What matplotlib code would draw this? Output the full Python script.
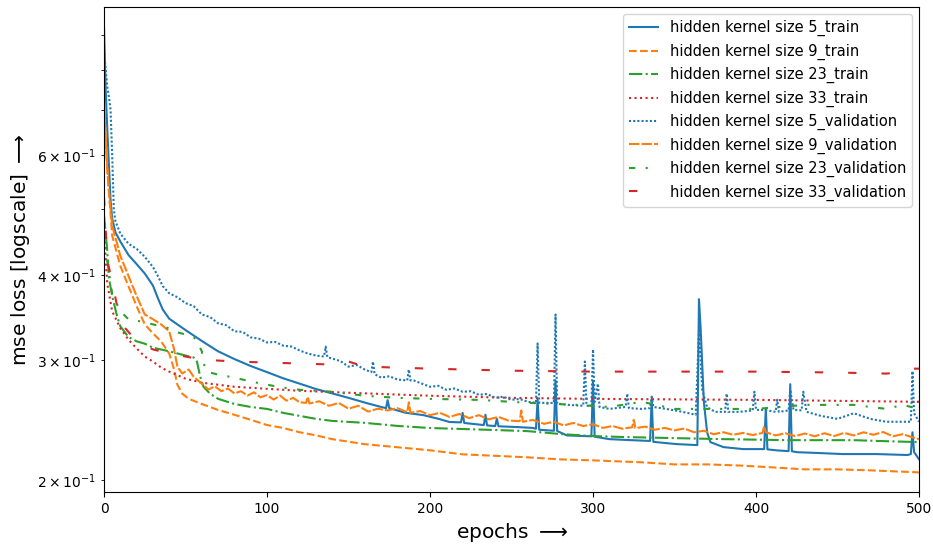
import matplotlib
matplotlib.use("Agg")
import matplotlib.pyplot as plt

# (epoch, mse loss) pairs for each run
k5_train = [(0, 0.925), (1, 0.749), (2, 0.654), (3, 0.580), (4, 0.515), (5, 0.484), (7, 0.462),
            (10, 0.448), (15, 0.428), (20, 0.415), (25, 0.402), (30, 0.386), (33, 0.370), (36, 0.356),
            (40, 0.345), (50, 0.332), (60, 0.320), (70, 0.309), (80, 0.301), (90, 0.294), (100, 0.288),
            (110, 0.282), (120, 0.277), (130, 0.272), (140, 0.268), (150, 0.264), (161, 0.2594),
            (170, 0.256), (173, 0.255), (174, 0.262), (175, 0.255), (185, 0.251), (196, 0.249),
            (205, 0.246), (212, 0.2433), (219, 0.243), (220, 0.2509), (221, 0.2425), (233, 0.2408),
            (234, 0.2493), (235, 0.2405), (240, 0.240), (241, 0.246), (242, 0.2398), (253, 0.2392),
            (263, 0.2385), (265, 0.2378), (266, 0.2622), (267, 0.2370), (276, 0.2362), (277, 0.2801),
            (278, 0.2360), (284, 0.2325), (299, 0.2318), (300, 0.279), (301, 0.2315), (310, 0.2296),
            (320, 0.2290), (335, 0.2282), (336, 0.263), (337, 0.2275), (351, 0.2258), (364, 0.2250),
            (365, 0.3686), (366, 0.335), (368, 0.2605), (370, 0.235), (372, 0.2273), (380, 0.2235),
            (392, 0.222), (405, 0.222), (406, 0.2545), (407, 0.2218), (413, 0.221), (420, 0.2205),
            (421, 0.2765), (422, 0.2204), (425, 0.2197), (440, 0.219), (453, 0.2183), (474, 0.2183),
            (493, 0.2176), (495, 0.2183), (496, 0.235), (497, 0.2197), (500, 0.2145)]

k9_train = [(0, 0.72), (1, 0.64), (2, 0.58), (3, 0.53), (5, 0.457), (10, 0.4125), (15, 0.385),
            (20, 0.360), (25, 0.3385), (30, 0.3283), (35, 0.3196), (40, 0.3067), (43, 0.2905),
            (45, 0.276), (48, 0.2678), (52, 0.2631), (60, 0.2586), (70, 0.2534), (80, 0.2493),
            (90, 0.2451), (100, 0.2408), (110, 0.2384), (120, 0.235), (130, 0.2326), (140, 0.2296),
            (160, 0.2257), (180, 0.2234), (200, 0.2211), (220, 0.2181), (240, 0.2170), (260, 0.2159),
            (280, 0.2144), (300, 0.2137), (330, 0.2123), (350, 0.2108), (370, 0.2108), (390, 0.2100),
            (410, 0.2087), (430, 0.2073), (450, 0.2073), (470, 0.2066), (500, 0.2052)]

k23_train = [(0, 0.489), (2, 0.434), (3, 0.396), (5, 0.3725), (8, 0.348), (10, 0.3363), (15, 0.3243),
             (20, 0.3196), (25, 0.3171), (30, 0.3128), (40, 0.309), (50, 0.3046), (55, 0.3026),
             (57, 0.2985), (59, 0.2836), (61, 0.2741), (65, 0.2678), (70, 0.2631), (80, 0.2586),
             (90, 0.256), (100, 0.2543), (110, 0.2509), (120, 0.2484), (130, 0.2459), (140, 0.2442),
             (160, 0.2426), (180, 0.2401), (200, 0.2384), (220, 0.2376), (240, 0.2368), (260, 0.2359),
             (280, 0.2336), (300, 0.232), (320, 0.2312), (350, 0.2304), (380, 0.2296), (420, 0.2288),
             (460, 0.2288), (480, 0.228), (500, 0.2273)]

k33_train = [(0, 0.4648), (2, 0.388), (5, 0.3539), (10, 0.334), (15, 0.3214), (20, 0.312), (25, 0.3036),
             (30, 0.2985), (35, 0.2925), (40, 0.2885), (50, 0.2817), (60, 0.2779), (70, 0.276),
             (80, 0.2741), (100, 0.2722), (120, 0.2704), (150, 0.2686), (200, 0.2659), (250, 0.264),
             (300, 0.2631), (400, 0.2622), (500, 0.2605)]

k5_val = [(0, 0.858), (1, 0.801), (2, 0.756), (3, 0.73), (4, 0.70), (5, 0.60), (6, 0.50), (7, 0.48),
          (10, 0.460), (15, 0.4446), (20, 0.437), (25, 0.4253), (30, 0.411), (33, 0.3987), (36, 0.3853),
          (40, 0.376), (45, 0.3710), (50, 0.3637), (55, 0.3600), (60, 0.350), (65, 0.3470), (70, 0.3397),
          (75, 0.3375), (80, 0.3306), (85, 0.3300), (90, 0.3239), (95, 0.3225), (100, 0.3184),
          (105, 0.3190), (110, 0.3149), (115, 0.3140), (120, 0.3099), (125, 0.3067), (130, 0.3046),
          (135, 0.3036), (136, 0.3140), (137, 0.3030), (140, 0.3015), (145, 0.2990), (150, 0.2934),
          (155, 0.2950), (160, 0.2905), (164, 0.2880), (165, 0.2985), (166, 0.2860), (170, 0.2827),
          (175, 0.2840), (180, 0.2809), (186, 0.2800), (187, 0.2905), (188, 0.2800), (190, 0.2800),
          (195, 0.2770), (200, 0.2741), (205, 0.2750), (210, 0.2713), (215, 0.2725), (220, 0.2695),
          (225, 0.2700), (230, 0.2667), (235, 0.2675), (240, 0.2640), (245, 0.2650), (250, 0.2622),
          (255, 0.2630), (260, 0.2605), (265, 0.2596), (266, 0.3173), (267, 0.2596),
          (276, 0.2595), (277, 0.350), (278, 0.2590), (285, 0.2578), (294, 0.2570), (295, 0.2985),
          (296, 0.2570), (299, 0.2570), (300, 0.311), (301, 0.2605), (303, 0.277), (304, 0.2560),
          (310, 0.2543), (320, 0.2560), (321, 0.2678), (322, 0.2550), (330, 0.2543), (335, 0.2550),
          (336, 0.265), (337, 0.2560), (345, 0.2543), (355, 0.2518), (363, 0.2493), (365, 0.331),
          (367, 0.2713), (370, 0.2557), (375, 0.2518), (381, 0.2518), (382, 0.2678), (383, 0.2518),
          (390, 0.2518), (398, 0.2530), (399, 0.2695), (400, 0.2535), (405, 0.2535), (412, 0.2518),
          (413, 0.2623), (414, 0.2518), (420, 0.2530), (421, 0.2713), (423, 0.2535), (428, 0.2530),
          (429, 0.2695), (431, 0.2518), (440, 0.2483), (450, 0.2459), (460, 0.2506), (470, 0.2459),
          (480, 0.2435), (490, 0.2435), (495, 0.2435), (496, 0.289), (497, 0.2506), (500, 0.2435)]

k9_val = [(0, 0.72), (1, 0.63), (2, 0.57), (3, 0.53), (5, 0.4727), (10, 0.4268), (15, 0.3987),
          (20, 0.3725), (25, 0.350), (30, 0.3444), (35, 0.3385), (40, 0.3306), (43, 0.311),
          (45, 0.2934), (48, 0.2867), (52, 0.2905), (55, 0.2835), (60, 0.277), (64, 0.2715),
          (68, 0.2745), (72, 0.2700), (76, 0.2725), (80, 0.2680), (84, 0.2700), (88, 0.2660),
          (92, 0.2690), (96, 0.2645), (100, 0.2665), (104, 0.2625), (108, 0.2660), (112, 0.2615),
          (116, 0.2640), (120, 0.2600), (124, 0.2596), (125, 0.2650), (126, 0.2590), (132, 0.2610),
          (138, 0.2570), (144, 0.2595), (150, 0.2545), (156, 0.2570), (162, 0.2520), (168, 0.2545),
          (174, 0.2530), (180, 0.2550), (186, 0.2515), (187, 0.2600), (188, 0.2510), (194, 0.2525),
          (200, 0.2490), (206, 0.2510), (212, 0.2475), (218, 0.2500), (224, 0.2465), (230, 0.2490),
          (236, 0.2455), (242, 0.2475), (248, 0.2445), (255, 0.2440), (256, 0.2530), (257, 0.2435),
          (263, 0.2450), (270, 0.2418), (276, 0.2435), (282, 0.2405), (288, 0.2425), (294, 0.2400),
          (300, 0.2415), (306, 0.2385), (312, 0.2400), (318, 0.2378), (324, 0.2390), (325, 0.2451),
          (326, 0.2383), (332, 0.2395), (338, 0.2370), (344, 0.2385), (350, 0.2365), (356, 0.2380),
          (362, 0.2350), (368, 0.2362), (374, 0.2335), (380, 0.2350), (386, 0.2330), (392, 0.2345),
          (398, 0.2328), (404, 0.2345), (405, 0.2400), (406, 0.2350), (412, 0.2325), (418, 0.2342),
          (424, 0.2320), (430, 0.2340), (436, 0.2318), (442, 0.2342), (448, 0.2320), (454, 0.2345),
          (460, 0.2325), (466, 0.2350), (472, 0.2330), (478, 0.2352), (484, 0.2318), (490, 0.2335),
          (496, 0.2310), (500, 0.2296)]

k23_val = [(0, 0.4648), (2, 0.4196), (5, 0.375), (10, 0.3539), (15, 0.3444), (22, 0.342), (30, 0.3385),
           (40, 0.334), (45, 0.3294), (50, 0.3272), (55, 0.3243), (57, 0.3196), (60, 0.309),
           (62, 0.2905), (65, 0.2876), (70, 0.2856), (80, 0.2827), (90, 0.279), (100, 0.276),
           (110, 0.2733), (120, 0.2713), (140, 0.2695), (160, 0.2659), (180, 0.264), (200, 0.2631),
           (230, 0.2622), (260, 0.2596), (290, 0.2578), (310, 0.256), (330, 0.2605), (350, 0.2543),
           (400, 0.2543), (430, 0.2578), (460, 0.2578), (480, 0.2543), (490, 0.2578), (500, 0.2543)]

k33_val = [(0, 0.52), (2, 0.4196), (5, 0.392), (8, 0.36), (12, 0.3363), (20, 0.3196), (30, 0.311),
           (40, 0.3067), (50, 0.3036), (60, 0.3005), (70, 0.2995), (80, 0.2985), (100, 0.2975),
           (120, 0.2965), (140, 0.2955), (150, 0.2985), (160, 0.2934), (200, 0.2914), (250, 0.2894),
           (300, 0.2885), (350, 0.2885), (400, 0.2885), (450, 0.2876), (480, 0.2866), (490, 0.2880),
           (495, 0.2914), (500, 0.2914)]

runs = [
    (k5_train, "C0", "-", "hidden kernel size 5_train"),
    (k9_train, "C1", "--", "hidden kernel size 9_train"),
    (k23_train, "C2", "-.", "hidden kernel size 23_train"),
    (k33_train, "C3", ":", "hidden kernel size 33_train"),
    (k5_val, "C0", (0, (1, 1)), "hidden kernel size 5_validation"),
    (k9_val, "C1", (0, (5, 1)), "hidden kernel size 9_validation"),
    (k23_val, "C2", (0, (3, 5, 1, 5)), "hidden kernel size 23_validation"),
    (k33_val, "C3", (0, (4, 12)), "hidden kernel size 33_validation"),
]

fig = plt.figure(figsize=(9.33, 5.47), dpi=100)
ax = fig.add_axes([0.1115, 0.1005, 0.8735, 0.8867])

for data, col, ls, name in runs:
    ep, loss = zip(*data)
    ax.plot(ep, loss, color=col, linestyle=ls, lw=1.5, label=name)

ax.set_yscale("log")
ax.set_xlim(0, 500)
ax.set_ylim(0.192, 0.99)
ax.tick_params(labelsize=10)
ax.set_xlabel(r"epochs $\longrightarrow$", fontsize=14.5)
ax.set_ylabel(r"mse loss [logscale] $\longrightarrow$", fontsize=14.5)
ax.legend(loc="upper right", fontsize=10.5)

fig.savefig("out.png", dpi=100)
